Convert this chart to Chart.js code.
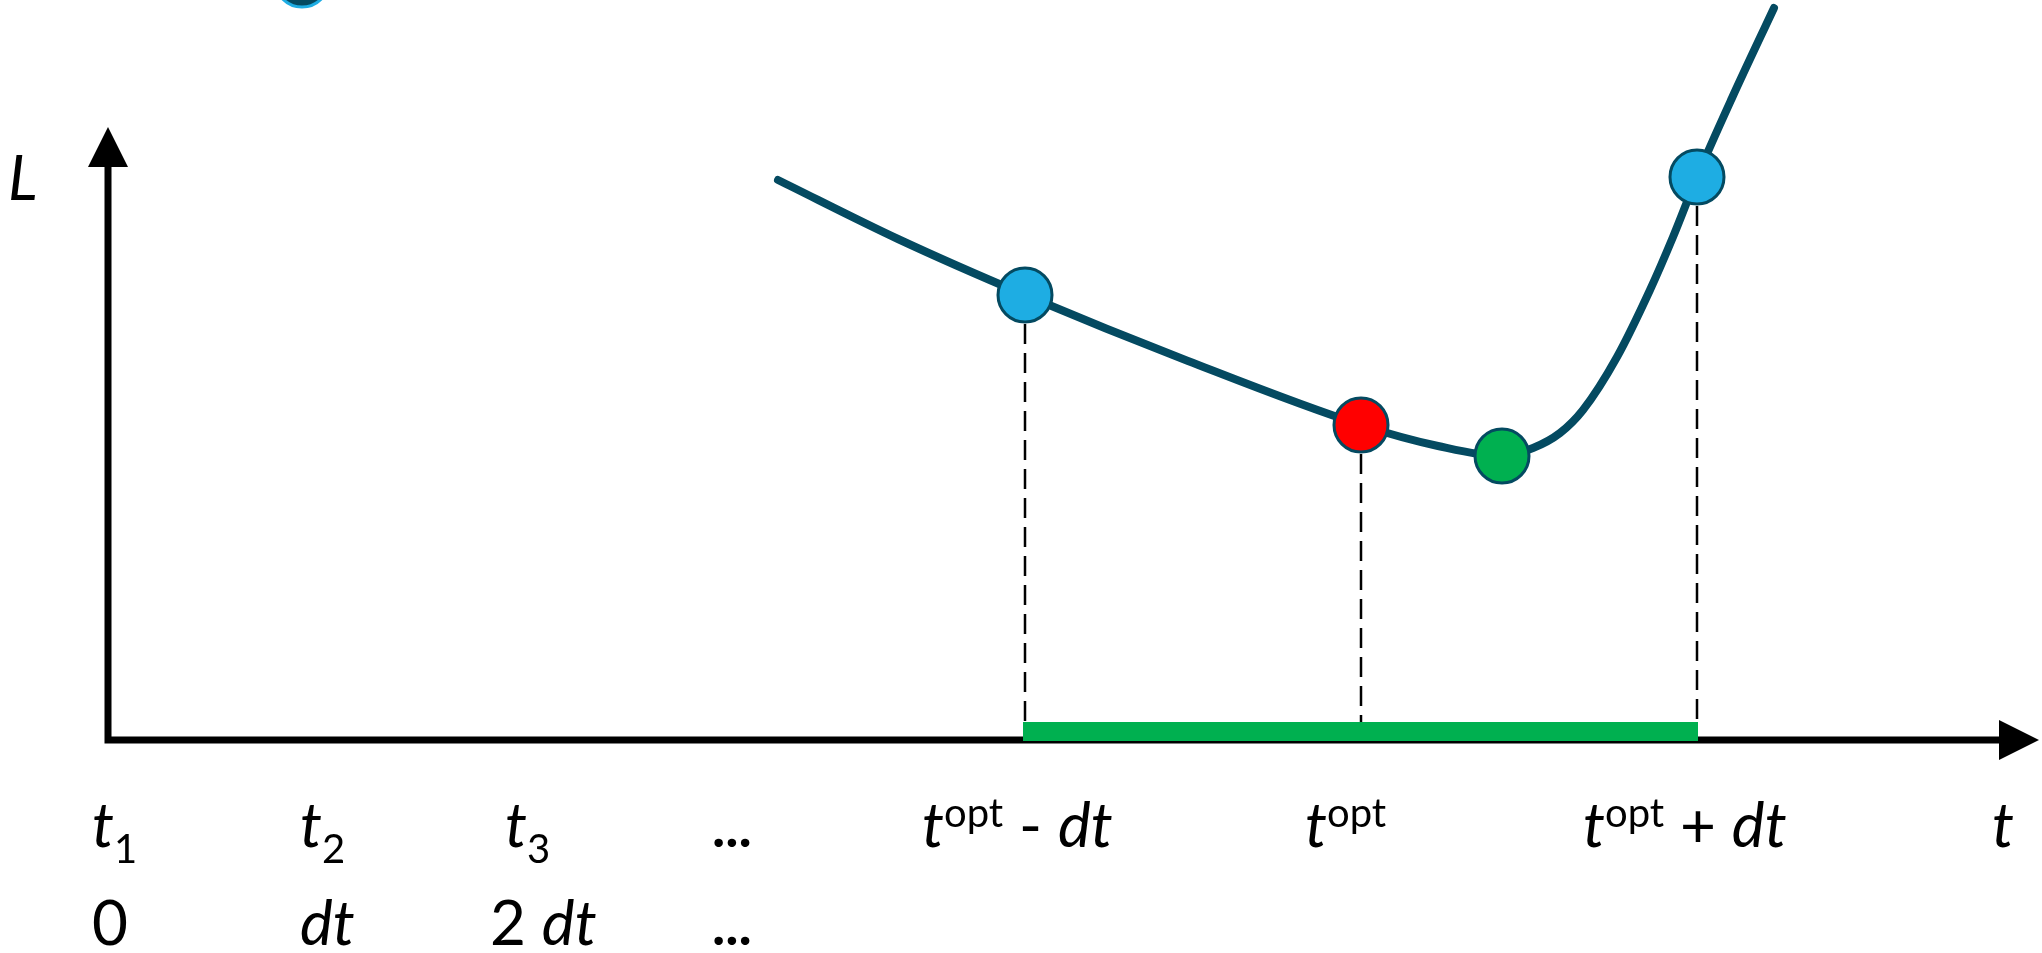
<!DOCTYPE html>
<html>
<head>
<meta charset="utf-8">
<script src="https://cdn.jsdelivr.net/npm/chart.js@4.4.1/dist/chart.umd.min.js"></script>
<style>
  html, body { margin: 0; padding: 0; background: #fff; }
  #wrap { width: 2042px; height: 953px; position: relative; }
</style>
</head>
<body>
<div id="wrap"><canvas id="grafico"></canvas></div>
<script>
// curva L(t) (unidades del grafico, origen en el cruce de ejes)
const curvaT = [67.0, 79.0, 91.7, 108.0, 125.3, 133.0, 139.4, 142.5, 145.2, 147.5, 150.9, 154.2, 156.5, 158.9, 162.4, 166.6];
const curvaL = [56.0, 50.1, 44.5, 37.9, 31.5, 29.4, 28.4, 29.2, 30.7, 33.0, 38.3, 45.0, 50.3, 56.3, 64.2, 73.2];

// puntos marcados: topt - dt, topt, minimo real, topt + dt
const puntosT = [91.7, 125.3, 139.4, 158.9];
const puntosL = [44.5, 31.5, 28.4, 56.3];
const puntosColor = ["#1EADE3", "#FF0000", "#00B050", "#1EADE3"];

// lineas discontinuas hasta el intervalo
const cortesT = [91.7, 125.3, 158.9];
const cortesL = [44.5, 31.5, 56.3];
const baseCorte = 1.8;

// intervalo [topt - dt, topt + dt]
const intervaloT = [91.5, 159.0];
const intervaloL = 0.85;

// punto cortado arriba a la izquierda
const sueltoT = [19.4];
const sueltoL = [76.0];

// ejes: origen y punta de flecha
const ejeT = [0, 193.1];
const ejeL = [0, 61.3];

// etiquetas (posicion izquierda en t, partes del texto)
const filaArriba = [
  { t: -1.6, runs: [["t", "i"], ["1", "sub"]] },
  { t: 19.2, runs: [["t", "i"], ["2", "sub"]] },
  { t: 39.7, runs: [["t", "i"], ["3", "sub"]] },
  { t: 60.4, runs: [["...", "dots"]] },
  { t: 81.4, runs: [["t", "i"], ["opt", "sup"], [" - ", "r"], ["dt", "i"]] },
  { t: 119.7, runs: [["t", "i"], ["opt", "sup"]] },
  { t: 147.5, runs: [["t", "i"], ["opt", "sup"], [" + ", "r"], ["dt", "i"]] },
  { t: 188.4, runs: [["t", "i"]] }
];
const filaAbajo = [
  { t: -1.6, runs: [["0", "r"]] },
  { t: 19.2, runs: [["dt", "i"]] },
  { t: 38.2, runs: [["2 ", "r"], ["dt", "i"]] },
  { t: 60.4, runs: [["...", "dots"]] }
];
const filaArribaL = -10.7;
const filaAbajoL = -20.5;
const etiquetaEjeL = { t: -10.0, L: 54.0, texto: "L" };

const COLOR_CURVA = "#044A61";
const FUENTE = "Lato";

const estilos = {
  i: { font: `italic 62px ${FUENTE}`, dy: 0 },
  r: { font: `62px ${FUENTE}`, dy: 0 },
  sub: { font: `40px ${FUENTE}`, dy: 16 },
  sup: { font: `40px ${FUENTE}`, dy: -20 },
  dots: { font: `bold 56px ${FUENTE}`, dy: 0 }
};

const ejesFlecha = {
  id: "ejesFlecha",
  beforeDatasetsDraw(chart) {
    const {ctx, scales: {x, y}} = chart;
    const ox = x.getPixelForValue(ejeT[0]);
    const oy = y.getPixelForValue(ejeL[0]);
    const xTip = x.getPixelForValue(ejeT[1]);
    const yTip = y.getPixelForValue(ejeL[1]);
    const largo = 40, media = 20;
    ctx.save();
    ctx.strokeStyle = "#000";
    ctx.fillStyle = "#000";
    ctx.lineWidth = 7;
    ctx.beginPath();
    ctx.moveTo(ox, oy + 3.5);
    ctx.lineTo(ox, yTip + largo);
    ctx.moveTo(ox - 3.5, oy);
    ctx.lineTo(xTip - largo, oy);
    ctx.stroke();
    ctx.beginPath();
    ctx.moveTo(ox, yTip);
    ctx.lineTo(ox - media, yTip + largo);
    ctx.lineTo(ox + media, yTip + largo);
    ctx.closePath();
    ctx.moveTo(xTip, oy);
    ctx.lineTo(xTip - largo, oy - media);
    ctx.lineTo(xTip - largo, oy + media);
    ctx.closePath();
    ctx.fill();
    ctx.restore();
  }
};

const etiquetas = {
  id: "etiquetas",
  afterDatasetsDraw(chart) {
    const {ctx, scales: {x, y}} = chart;
    ctx.save();
    ctx.fillStyle = "#000";
    ctx.textBaseline = "alphabetic";
    ctx.textAlign = "left";
    const pintarFila = (fila, L) => {
      const base = y.getPixelForValue(L);
      fila.forEach((et) => {
        let cx = x.getPixelForValue(et.t);
        et.runs.forEach(([texto, tipo]) => {
          const st = estilos[tipo];
          ctx.font = st.font;
          ctx.fillText(texto, cx, base + st.dy);
          cx += ctx.measureText(texto).width;
        });
      });
    };
    pintarFila(filaArriba, filaArribaL);
    pintarFila(filaAbajo, filaAbajoL);
    ctx.font = estilos.i.font;
    ctx.fillText(etiquetaEjeL.texto, x.getPixelForValue(etiquetaEjeL.t), y.getPixelForValue(etiquetaEjeL.L));
    ctx.restore();
  }
};

const datasets = [];

datasets.push({
  label: "puntos",
  data: puntosT.map((t, i) => ({x: t, y: puntosL[i]})),
  pointRadius: 27,
  pointBorderWidth: 3,
  pointBackgroundColor: puntosColor,
  pointBorderColor: COLOR_CURVA,
  showLine: false,
  order: 0,
  clip: false
});

datasets.push({
  label: "suelto",
  data: sueltoT.map((t, i) => ({x: t, y: sueltoL[i]})),
  pointRadius: 27,
  pointBorderWidth: 3,
  pointBackgroundColor: COLOR_CURVA,
  pointBorderColor: "#1EADE3",
  showLine: false,
  order: 0,
  clip: false
});

datasets.push({
  label: "curva",
  data: curvaT.map((t, i) => ({x: t, y: curvaL[i]})),
  showLine: true,
  borderColor: COLOR_CURVA,
  borderWidth: 8,
  borderCapStyle: "round",
  cubicInterpolationMode: "monotone",
  pointRadius: 0,
  order: 1,
  clip: false
});

cortesT.forEach((t, i) => {
  datasets.push({
    label: "corte" + i,
    data: [{x: t, y: cortesL[i]}, {x: t, y: baseCorte}],
    showLine: true,
    borderColor: "#000",
    borderWidth: 2.5,
    borderDash: [20, 9],
    pointRadius: 0,
    order: 2
  });
});

datasets.push({
  label: "intervalo",
  data: intervaloT.map((t) => ({x: t, y: intervaloL})),
  showLine: true,
  borderColor: "#00B050",
  borderWidth: 19,
  borderCapStyle: "butt",
  pointRadius: 0,
  order: 3
});

new Chart(document.getElementById("grafico"), {
  type: "scatter",
  data: { datasets },
  options: {
    responsive: true,
    maintainAspectRatio: false,
    animation: false,
    events: [],
    layout: { padding: 0, autoPadding: false },
    plugins: {
      legend: { display: false },
      tooltip: { enabled: false }
    },
    scales: {
      x: { type: "linear", min: -10.8, max: 193.4, display: false },
      y: { type: "linear", min: -21.3, max: 74.0, display: false }
    }
  },
  plugins: [ejesFlecha, etiquetas]
});
</script>
</body>
</html>
